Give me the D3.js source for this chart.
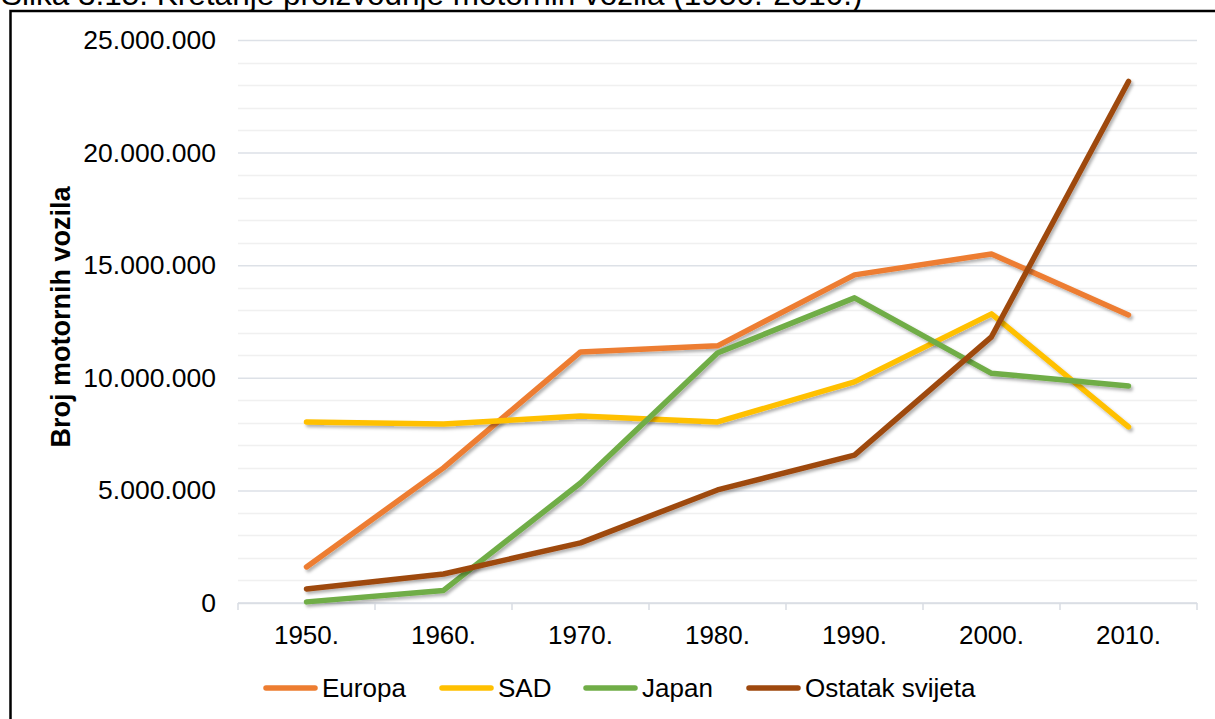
<!DOCTYPE html>
<html>

<head>
    <meta charset='utf-8' />
    <title> Proizvodnja motornih vozila </title>
    <script src="https://d3js.org/d3.v7.min.js" charset="utf-8"></script>
    <style>
        body {
            margin: 0;
            background: #fff;
            font-family: "Liberation Sans", Arial, sans-serif;
        }
    </style>
</head>

<body>
<svg class="chart"></svg>

<script>

    // data
    var years = ["1950.", "1960.", "1970.", "1980.", "1990.", "2000.", "2010."];

    var europa  = [1600000, 6000000, 11150000, 11420000, 14570000, 15500000, 12790000];
    var sad     = [8040000, 7950000, 8300000, 8040000, 9820000, 12840000, 7820000];
    var japan   = [50000, 560000, 5330000, 11100000, 13550000, 10200000, 9640000];
    var ostatak = [620000, 1290000, 2670000, 5020000, 6570000, 11820000, 23160000];

    var seriesNames = ["Europa", "SAD", "Japan", "Ostatak svijeta"];
    var seriesColors = ["#ED7D31", "#FFC000", "#70AD47", "#9E480E"];

    var yTicks = [0, 5000000, 10000000, 15000000, 20000000, 25000000];

    var series = [europa, sad, japan, ostatak].map(function(vals, i){
        return {name: seriesNames[i], color: seriesColors[i], values: vals};
    });

    var W = 1215, H = 719;

    var svg = d3.select(".chart")
        .attr("width", W)
        .attr("height", H);

    // shadow under the lines
    var defs = svg.append("defs");
    defs.append("filter")
        .attr("id", "shadow")
        .attr("x", "-10%").attr("y", "-10%")
        .attr("width", "120%").attr("height", "120%")
        .append("feDropShadow")
        .attr("dx", 2).attr("dy", 2.5)
        .attr("stdDeviation", 1.6)
        .attr("flood-color", "#000")
        .attr("flood-opacity", 0.3);

    // title (cut off at top)
    svg.append("text")
        .attr("x", 1)
        .attr("y", 5)
        .attr("font-size", 31.5)
        .attr("fill", "#000")
        .text("Slika 3.15. Kretanje proizvodnje motornih vozila (1950.-2010.)");

    // frame
    svg.append("rect")
        .attr("x", 10.5)
        .attr("y", 11)
        .attr("width", W + 20)
        .attr("height", H + 20)
        .attr("fill", "none")
        .attr("stroke", "#000")
        .attr("stroke-width", 2.5);

    // plot area
    var pLeft = 238, pRight = 1197, pTop = 40, pBottom = 603;

    var x = d3.scaleBand()
        .domain(years)
        .range([pLeft, pRight]);

    var y = d3.scaleLinear()
        .domain([0, 25000000])
        .range([pBottom, pTop]);

    // minor gridlines every 1.000.000
    var minor = d3.range(1000000, 25000001, 1000000).filter(function(v){ return v % 5000000 !== 0; });
    svg.append("g")
        .selectAll("line")
        .data(minor)
        .enter()
        .append("line")
        .attr("x1", pLeft).attr("x2", pRight)
        .attr("y1", function(d){ return Math.round(y(d)) + 0.5; })
        .attr("y2", function(d){ return Math.round(y(d)) + 0.5; })
        .attr("stroke", "#f0f0f0")
        .attr("stroke-width", 1.5);

    // major gridlines
    var yAxis = d3.axisLeft(y)
        .tickValues(yTicks)
        .tickSize(-(pRight - pLeft))
        .tickPadding(22)
        .tickFormat(function(d){ return d === 0 ? "0" : d3.format(",")(d).replace(/,/g, "."); });

    var gy = svg.append("g")
        .attr("transform", "translate(" + pLeft + ",0)")
        .call(yAxis);
    gy.select(".domain").remove();
    gy.selectAll(".tick line")
        .attr("stroke", "#dde1e7")
        .attr("stroke-width", 1.5);
    gy.selectAll(".tick text")
        .attr("font-family", "Liberation Sans, Arial, sans-serif")
        .attr("font-size", 26.5)
        .attr("fill", "#000");

    // x axis with ticks between categories
    var gx = svg.append("g")
        .attr("transform", "translate(0," + pBottom + ")");
    gx.append("line")
        .attr("x1", pLeft).attr("x2", pRight)
        .attr("y1", 0).attr("y2", 0)
        .attr("stroke", "#d9dde3")
        .attr("stroke-width", 1.5);
    var bounds = years.map(function(d){ return x(d); }).concat([pRight]);
    gx.selectAll(".tk")
        .data(bounds)
        .enter()
        .append("line")
        .attr("x1", function(d){ return d; }).attr("x2", function(d){ return d; })
        .attr("y1", 0).attr("y2", 7)
        .attr("stroke", "#d9dde3")
        .attr("stroke-width", 1.5);
    gx.selectAll(".lbl")
        .data(years)
        .enter()
        .append("text")
        .attr("x", function(d){ return x(d) + x.bandwidth() / 2; })
        .attr("y", 41)
        .attr("text-anchor", "middle")
        .attr("font-size", 26)
        .attr("fill", "#000")
        .text(function(d){ return d; });

    // y axis title
    svg.append("text")
        .attr("transform", "translate(70,317) rotate(-90)")
        .attr("text-anchor", "middle")
        .attr("font-size", 27)
        .attr("font-weight", "bold")
        .attr("fill", "#000")
        .text("Broj motornih vozila");

    // lines
    var line = d3.line()
        .x(function(d, i){ return x(years[i]) + x.bandwidth() / 2; })
        .y(function(d){ return y(d); });

    svg.append("g")
        .selectAll("path")
        .data(series)
        .enter()
        .append("path")
        .attr("d", function(d){ return line(d.values); })
        .attr("fill", "none")
        .attr("stroke", function(d){ return d.color; })
        .attr("stroke-width", 5.5)
        .attr("stroke-linecap", "round")
        .attr("stroke-linejoin", "round")
        .attr("filter", "url(#shadow)");

    // legend
    var legendX = [263, 439, 583, 746];
    var lg = svg.append("g")
        .selectAll("g")
        .data(series)
        .enter()
        .append("g")
        .attr("transform", function(d, i){ return "translate(" + legendX[i] + ",688)"; });
    lg.append("line")
        .attr("x1", 3).attr("x2", 52)
        .attr("y1", 0).attr("y2", 0)
        .attr("stroke", function(d){ return d.color; })
        .attr("stroke-width", 5.5)
        .attr("stroke-linecap", "round");
    lg.append("text")
        .attr("x", 59)
        .attr("y", 9)
        .attr("font-size", 26)
        .attr("fill", "#000")
        .text(function(d){ return d.name; });

</script>

</body>

</html>
